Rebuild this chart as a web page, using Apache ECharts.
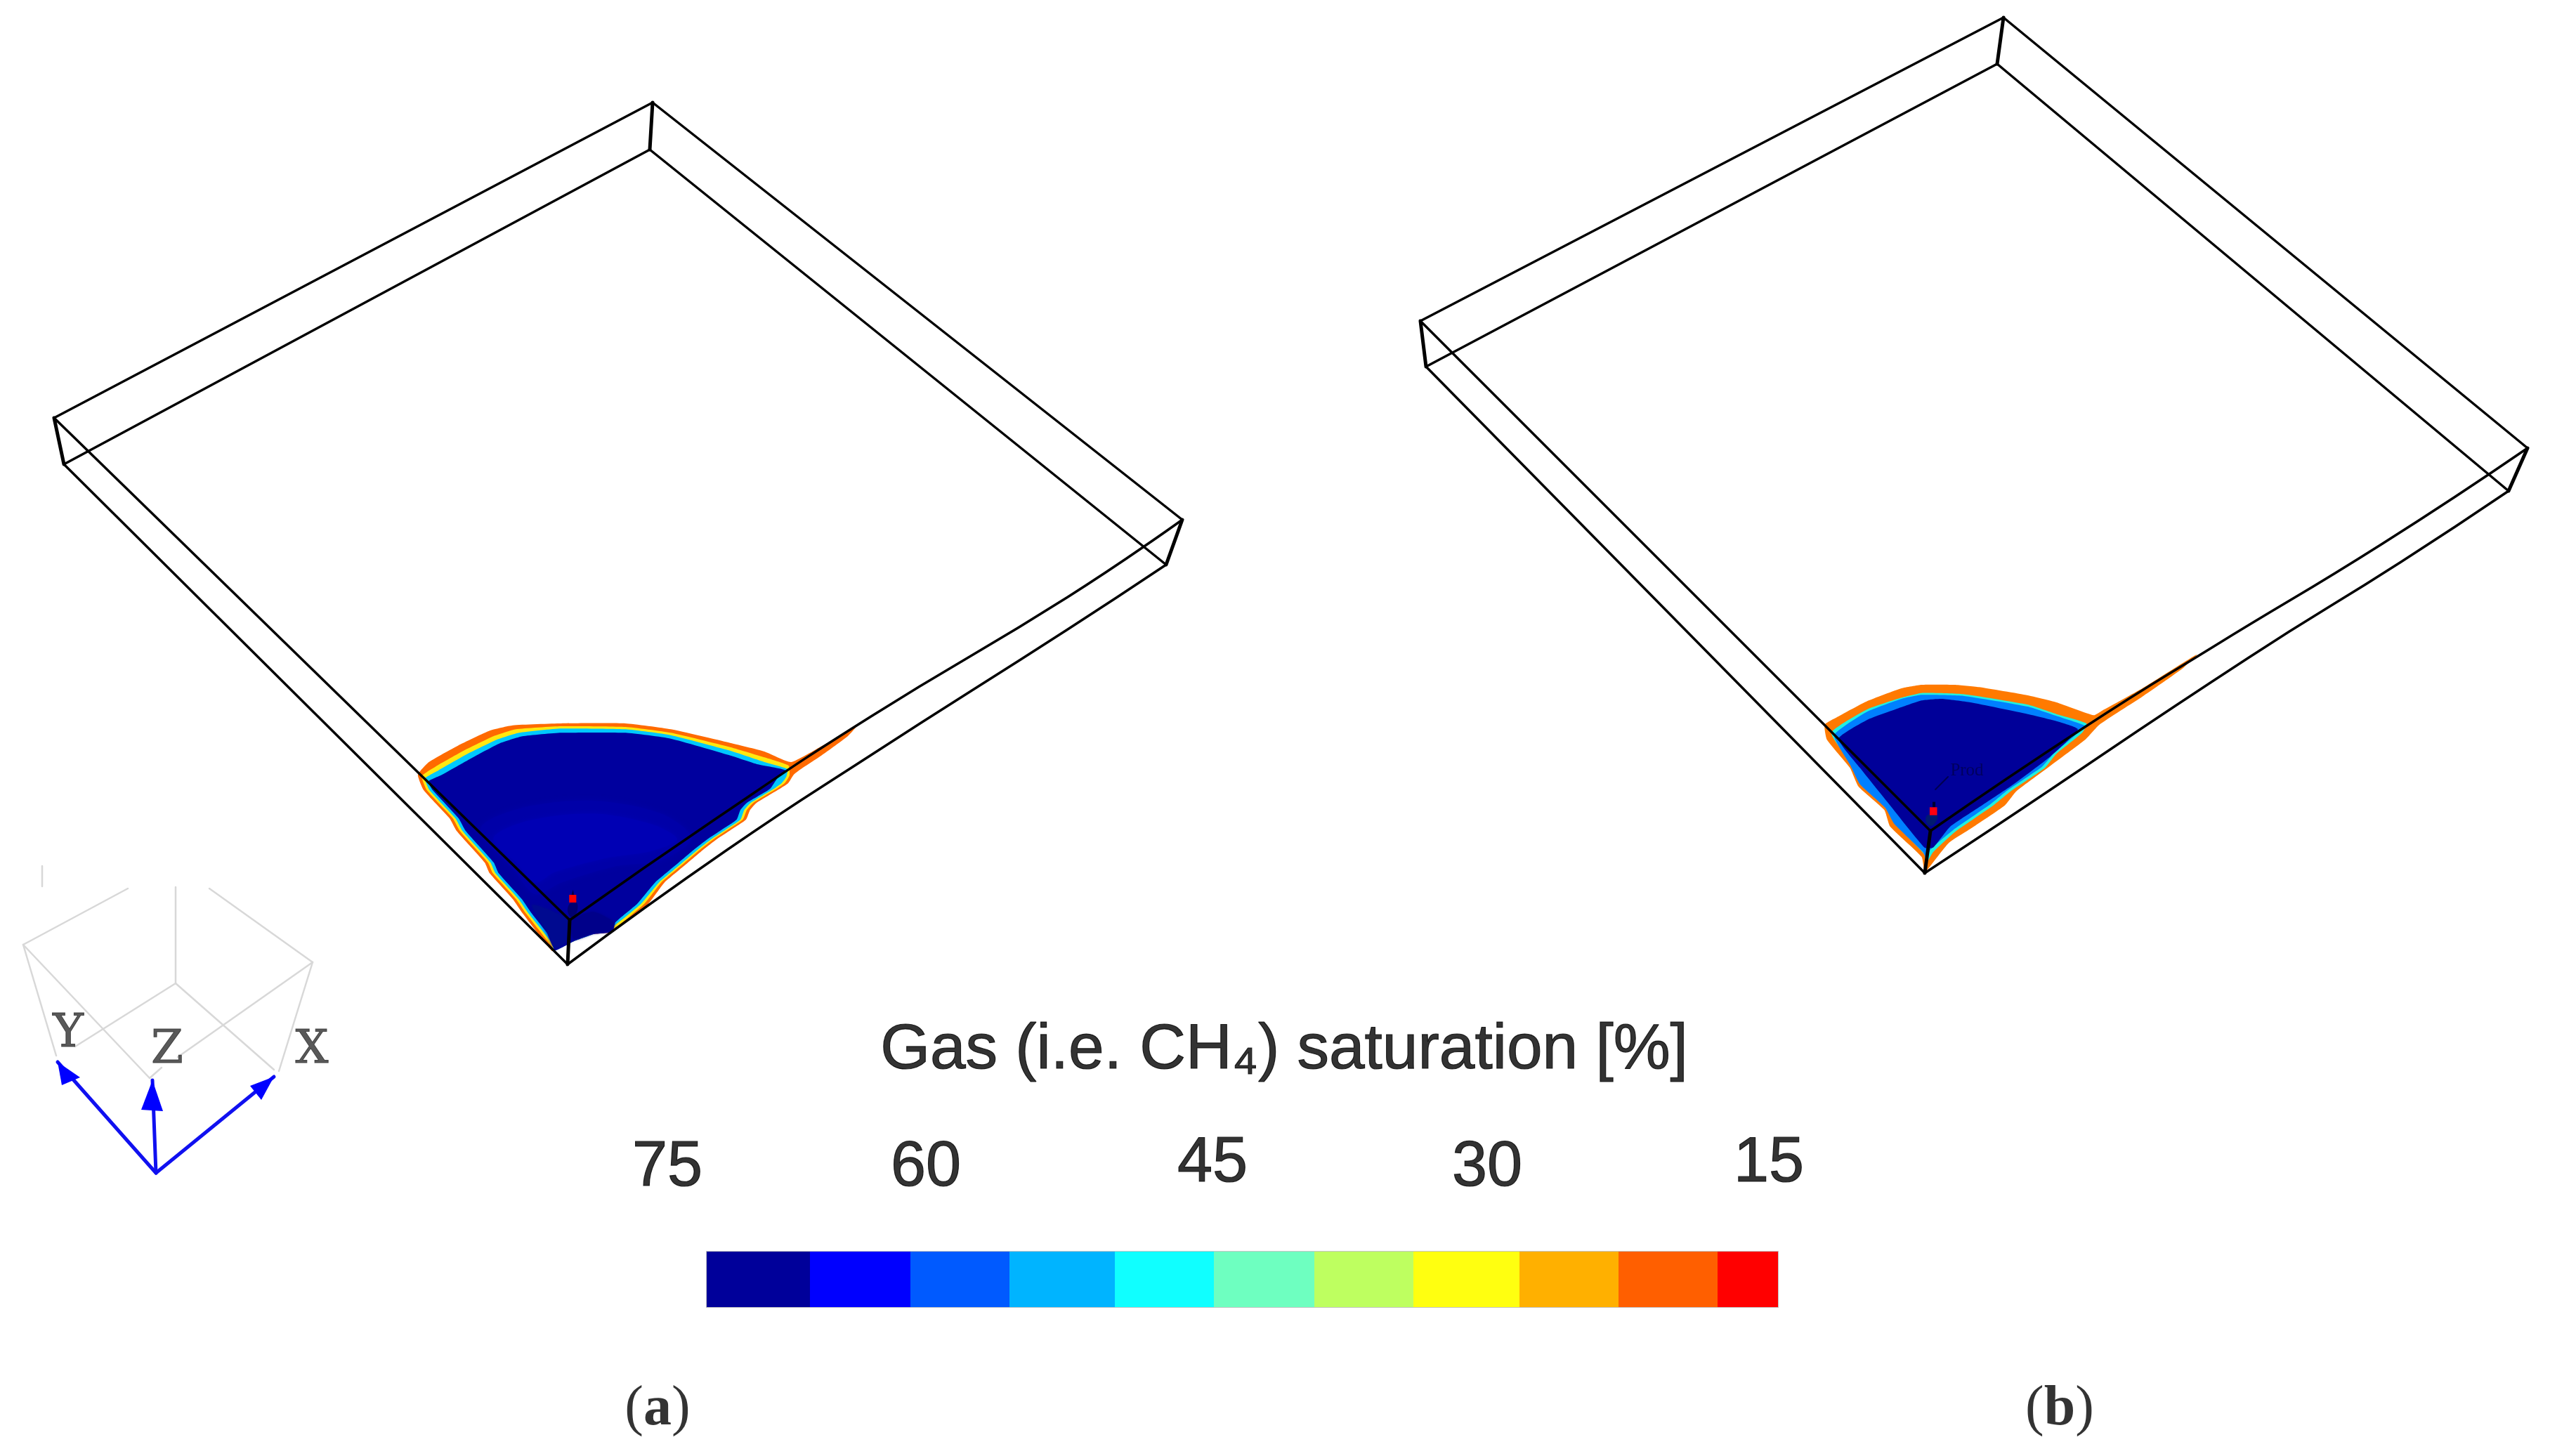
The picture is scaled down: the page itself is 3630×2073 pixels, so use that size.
<!DOCTYPE html>
<html><head><meta charset="utf-8">
<style>html,body{margin:0;padding:0;background:#fff}#c{width:3630px;height:2073px}</style>
<script src="https://cdn.jsdelivr.net/npm/echarts@6/dist/echarts.min.js"></script>
</head><body><div id="c"></div>
<script>
// ---- wireframe corners (image units): top/left/right/bottom, upper then lower
const boxA = [[929,146],[925,213],[77,595],[91,661],[1683,740],[1660,804],[811,1310],[808,1373]];
const boxB = [[2852,25],[2843,91],[2022,457],[2030,522],[3598,638],[3571,699],[2748,1183],[2740,1243]];
const boxThin = [[0,2],[1,3],[0,4],[1,5],[2,6],[3,7]];
const boxThick = [[0,1],[2,3],[4,5],[6,7]];
// the two front-right edges are slightly bowed in the source picture
const aFrontUpper = [[1683,740],[1520,850],[1240,1020],[1020,1165],[811,1310]];
const aFrontLower = [[1660,804],[1520,896],[1240,1075],[1035,1210],[808,1373]];
const bFrontUpper = [[3598,638],[3390,775],[3152,920],[2968,1035],[2748,1183]];
const bFrontLower = [[3571,699],[3418,800],[3200,937],[2846,1173],[2740,1243]];

// ---- plume contours, panel (a)
const aOrange = [[76,369],[110,315],[200,245],[300,180],[370,158],[520,150],[720,150],[860,175],[1040,232],[1150,270],[1233,315],[1329,246],[1409,186],[1444,150],[1409,204],[1329,285],[1257,351],[1241,369],[1224,405],[1198,429],[1126,489],[1106,519],[1093,561],[1045,606],[1002,645],[960,690],[900,760],[840,830],[790,920],[680,1040],[620,1050],[560,1080],[500,1120],[490,1120],[400,960],[370,900],[298,789],[283,744],[196,609],[174,555],[94,435]];
const aYellow = [[88,375],[130,335],[220,265],[310,205],[380,175],[520,162],[720,165],[860,190],[1040,250],[1150,295],[1225,330],[1228,372],[1213,405],[1188,429],[1116,489],[1096,519],[1083,561],[1035,606],[992,645],[950,690],[890,760],[830,830],[778,920],[680,1030],[620,1050],[560,1080],[500,1120],[490,1100],[410,960],[380,900],[308,789],[293,744],[206,609],[184,555],[104,435]];
const aCyan = [[98,385],[140,350],[230,280],[320,220],[390,190],[520,172],[720,175],[860,200],[1040,265],[1150,315],[1222,345],[1218,378],[1204,405],[1180,429],[1108,489],[1088,519],[1076,561],[1028,606],[985,645],[943,690],[883,760],[823,830],[768,920],[680,1018],[620,1050],[560,1080],[500,1120],[490,1085],[418,960],[388,900],[316,789],[301,744],[214,609],[192,555],[112,435]];
const aNavy = [[108,398],[150,370],[240,300],[330,235],[400,205],[520,190],[720,190],[860,215],[1040,285],[1130,325],[1215,350],[1190,385],[1168,429],[1096,489],[1076,519],[1064,561],[1016,606],[973,645],[931,690],[871,760],[811,830],[756,920],[688,1000],[680,1040],[620,1050],[560,1080],[500,1120],[490,1070],[428,960],[398,900],[326,789],[311,744],[224,609],[202,555],[122,435]];
const aMid = [[270,600],[400,510],[620,480],[830,535],[925,640],[830,735],[690,760],[520,830],[440,880],[375,780]];
const aMid2 = [[310,640],[420,565],[620,535],[800,580],[880,645],[800,695],[660,725],[500,785],[440,830],[385,750]];
const aDark1 = [[500,1110],[475,1040],[430,925],[540,985],[545,1070]];
const aDark2 = [[560,1070],[552,990],[620,955],[685,1000],[675,1035],[620,1045]];

// ---- plume contours, panel (b)
const bOrange = [[92,335],[140,300],[240,235],[360,180],[430,165],[545,165],[630,175],[800,210],[900,240],[1030,295],[1060,275],[1200,180],[1390,35],[1340,95],[1200,215],[1050,335],[1000,400],[880,510],[760,620],[720,680],[600,780],[525,840],[450,955],[440,965],[430,900],[320,770],[300,700],[210,600],[180,520],[100,400]];
const bCyan = [[115,370],[240,270],[360,220],[430,200],[575,205],[800,250],[900,290],[1005,330],[990,370],[900,460],[860,520],[740,620],[680,680],[550,790],[470,880],[445,930],[440,890],[340,760],[310,690],[220,590],[190,510]];
const bBlue = [[125,380],[240,280],[360,225],[430,208],[575,212],[800,258],[900,298],[1000,340],[985,360],[890,460],[850,515],[730,615],[670,675],[540,785],[460,870],[448,915],[435,880],[335,760],[303,690],[215,590],[182,510]];
const bNavy = [[140,395],[240,315],[350,265],[430,232],[500,225],[600,240],[800,290],[900,320],[975,355],[880,470],[750,590],[640,680],[530,770],[470,860],[440,860],[320,680],[215,520]];

// ---- well markers, panel-local units
const aWellRed = [[545,882],[567,882],[567,915],[545,915]];
const aWellShade = [[550,915],[568,915],[570,950],[555,980],[540,950]];
const aWellPin = [[552,882],[557,860],[560,882]];
const bWellRed = [[458,688],[484,688],[484,722],[458,722]];
const bWellShade = [[450,722],[484,722],[480,750],[462,768],[445,750]];
const bWellPin = [[468,665],[478,665],[478,688],[468,688]];
const bLeader = [[522,558],[478,612]];
const wellLabel = [2800,1097,'Prod'];

// ---- compass triad
const triadGrey = [[[60,1233],[60,1262]],[[182,1265],[33,1345]],[[250,1263],[250,1400]],[[298,1265],[445,1370]],[[33,1345],[80,1503]],[[33,1345],[213,1535]],[[250,1400],[107,1490]],[[250,1400],[390,1523]],[[445,1370],[253,1505]],[[445,1370],[397,1525]],[[230,1520],[213,1535]]];
const triadAxes = [[[222,1670],[82,1512]],[[222,1670],[217,1538]],[[222,1670],[390,1533]]];
const triadHeads = [[[82,1512],[88,1545],[114,1534]],[[217,1538],[201,1580],[232,1582]],[[390,1533],[356,1546],[372,1566]]];
const triadLabels = [[97,1473,'Y'],[238,1496,'Z'],[444,1496,'X']];

// ---- colour scale
const scaleWidths = [147,143,141,150,141,143,141,151,141,141,86];
const scaleColors = ['#00009a','#0000ff','#005aff','#00b4ff','#10ffff','#6effc0','#beff60','#ffff10','#ffb000','#ff5f00','#ff0000'];
const scaleTicks = [[950,1663,'75'],[1318,1663,'60'],[1726,1657,'45'],[2117,1663,'30'],[2518,1657,'15']];
const scaleTitle = [[1828,1496,'Gas (i.e. CH₄) saturation [%]']];
const panelTags = [[936,2007,'{p|(}{b|a}{p|)}'],[2932,2007,'{p|(}{b|b}{p|)}']];

const FULL=0, PA=1, PB=2, BAR=3;
function hiddenAxis(i,min,max,inv){return {gridIndex:i,type:'value',min,max,inverse:!!inv,show:false,splitLine:{show:false}};}

function polygon(pts,color,grid,z,smooth,blur){
  return {type:'custom',xAxisIndex:grid,yAxisIndex:grid,z,silent:true,data:[0],
    renderItem:(p,api)=>({type:'polygon',shape:{points:pts.map(q=>api.coord(q)),smooth:smooth||0},
      style:{fill:color,shadowBlur:blur||0,shadowColor:color}})};
}
function curve(pts,color,width,grid,z){
  return {type:'custom',xAxisIndex:grid,yAxisIndex:grid,z,silent:true,data:[0],
    renderItem:(p,api)=>({type:'polyline',shape:{points:pts.map(q=>api.coord(q)),smooth:0.5},
      style:{stroke:color,fill:'none',lineWidth:width,lineCap:'round'}})};
}
function segments(list,color,width,grid,z){
  return {type:'custom',xAxisIndex:grid,yAxisIndex:grid,z,silent:true,data:list.map((_,i)=>i),
    renderItem:(p,api)=>{const s=list[api.value(0)],a=api.coord(s[0]),b=api.coord(s[1]);
      return {type:'line',shape:{x1:a[0],y1:a[1],x2:b[0],y2:b[1]},style:{stroke:color,lineWidth:width,lineCap:'round'}};}};
}
function edges(box,idx){return idx.map(e=>[box[e[0]],box[e[1]]]);}
function labels(list,style,z){
  return {type:'scatter',xAxisIndex:FULL,yAxisIndex:FULL,z,silent:true,symbolSize:0,
    data:list.map(d=>({value:[d[0],d[1]],name:d[2]})),
    label:Object.assign({show:true,position:'inside',align:'center',verticalAlign:'middle',formatter:o=>o.name},style)};
}

const series=[];
[[aOrange,'#ff6a00',.15],[aYellow,'#ffe810',.15],[aCyan,'#00c8ff',.15],[aNavy,'#00009e',.15],[aMid,'#0000a8',.3,8],[aMid2,'#0000b4',.3,8],[aDark1,'#000a90',.2,4],[aDark2,'#00008a',.2,4],[aWellShade,'#000070',.4],[aWellPin,'#000040'],[aWellRed,'#ff0000']]
  .forEach((r,i)=>series.push(polygon(r[0],r[1],PA,2+i*0.01,r[2],r[3])));
[[bOrange,'#ff7a00',.15],[bCyan,'#20f0e0',.15],[bBlue,'#0080ff',.15],[bNavy,'#000099',.15],[bWellShade,'#001a70',.4],[bWellPin,'#000030'],[bWellRed,'#ff0010']]
  .forEach((r,i)=>series.push(polygon(r[0],r[1],PB,2+i*0.01,r[2],r[3])));
series.push(segments([bLeader],'#000050',2,PB,3));
series.push(segments(edges(boxA,boxThin),'#000',3.5,FULL,4));
series.push(curve(aFrontUpper,'#000',3.5,FULL,4));
series.push(curve(aFrontLower,'#000',3.5,FULL,4));
series.push(segments(edges(boxA,boxThick),'#000',5,FULL,4));
series.push(segments(edges(boxB,boxThin),'#000',3.5,FULL,4));
series.push(curve(bFrontUpper,'#000',3.5,FULL,4));
series.push(curve(bFrontLower,'#000',3.5,FULL,4));
series.push(segments(edges(boxB,boxThick),'#000',5,FULL,4));
series.push(segments(triadGrey,'#d8d8d8',2.5,FULL,2));
series.push(segments(triadAxes,'#1010f0',5,FULL,3));
triadHeads.forEach(h=>series.push(polygon(h,'#0000ff',FULL,3)));
series.push(labels(triadLabels,{fontFamily:'DejaVu Serif',fontSize:66,color:'#303030',textBorderColor:'#303030',textBorderWidth:1},5));
series.push(labels([wellLabel],{fontFamily:'Liberation Serif',fontSize:25,color:'#000050'},5));
series.push(labels(scaleTitle,{fontFamily:'Liberation Sans',fontSize:91,color:'#000',textBorderColor:'#000',textBorderWidth:1.2},5));
series.push(labels(scaleTicks,{fontFamily:'Liberation Sans',fontSize:90,color:'#000',textBorderColor:'#000',textBorderWidth:1.2},5));
series.push(labels(panelTags,{fontFamily:'Liberation Serif',rich:{p:{fontFamily:'Liberation Serif',fontSize:80,color:'#000'},b:{fontFamily:'Liberation Serif',fontSize:80,fontWeight:'bold',color:'#000'}}},5));
scaleWidths.forEach((w,i)=>series.push({type:'bar',xAxisIndex:BAR,yAxisIndex:BAR,stack:'scale',barWidth:'100%',silent:true,data:[w],
  itemStyle:{color:scaleColors[i]}}));

const chart=echarts.init(document.getElementById('c'),null,{renderer:'canvas'});
chart.setOption({
  animation:false,backgroundColor:'#fff',tooltip:{show:false},legend:{show:false},
  grid:[
    {left:0,top:0,width:3630,height:2073},
    {left:560,top:980,width:720,height:420},
    {left:2560,top:920,width:640,height:360},
    {left:1006,top:1782,width:1525,height:79,show:true,borderColor:'#c4c4c4',borderWidth:2,backgroundColor:'transparent'}
  ],
  xAxis:[hiddenAxis(0,0,3630),hiddenAxis(1,0,1568),hiddenAxis(2,0,1568),hiddenAxis(3,0,1525)],
  yAxis:[hiddenAxis(0,0,2073,true),hiddenAxis(1,0,1260,true),hiddenAxis(2,0,1080,true),
    {gridIndex:3,type:'category',data:['scale'],show:false}],
  series
});
</script></body></html>
